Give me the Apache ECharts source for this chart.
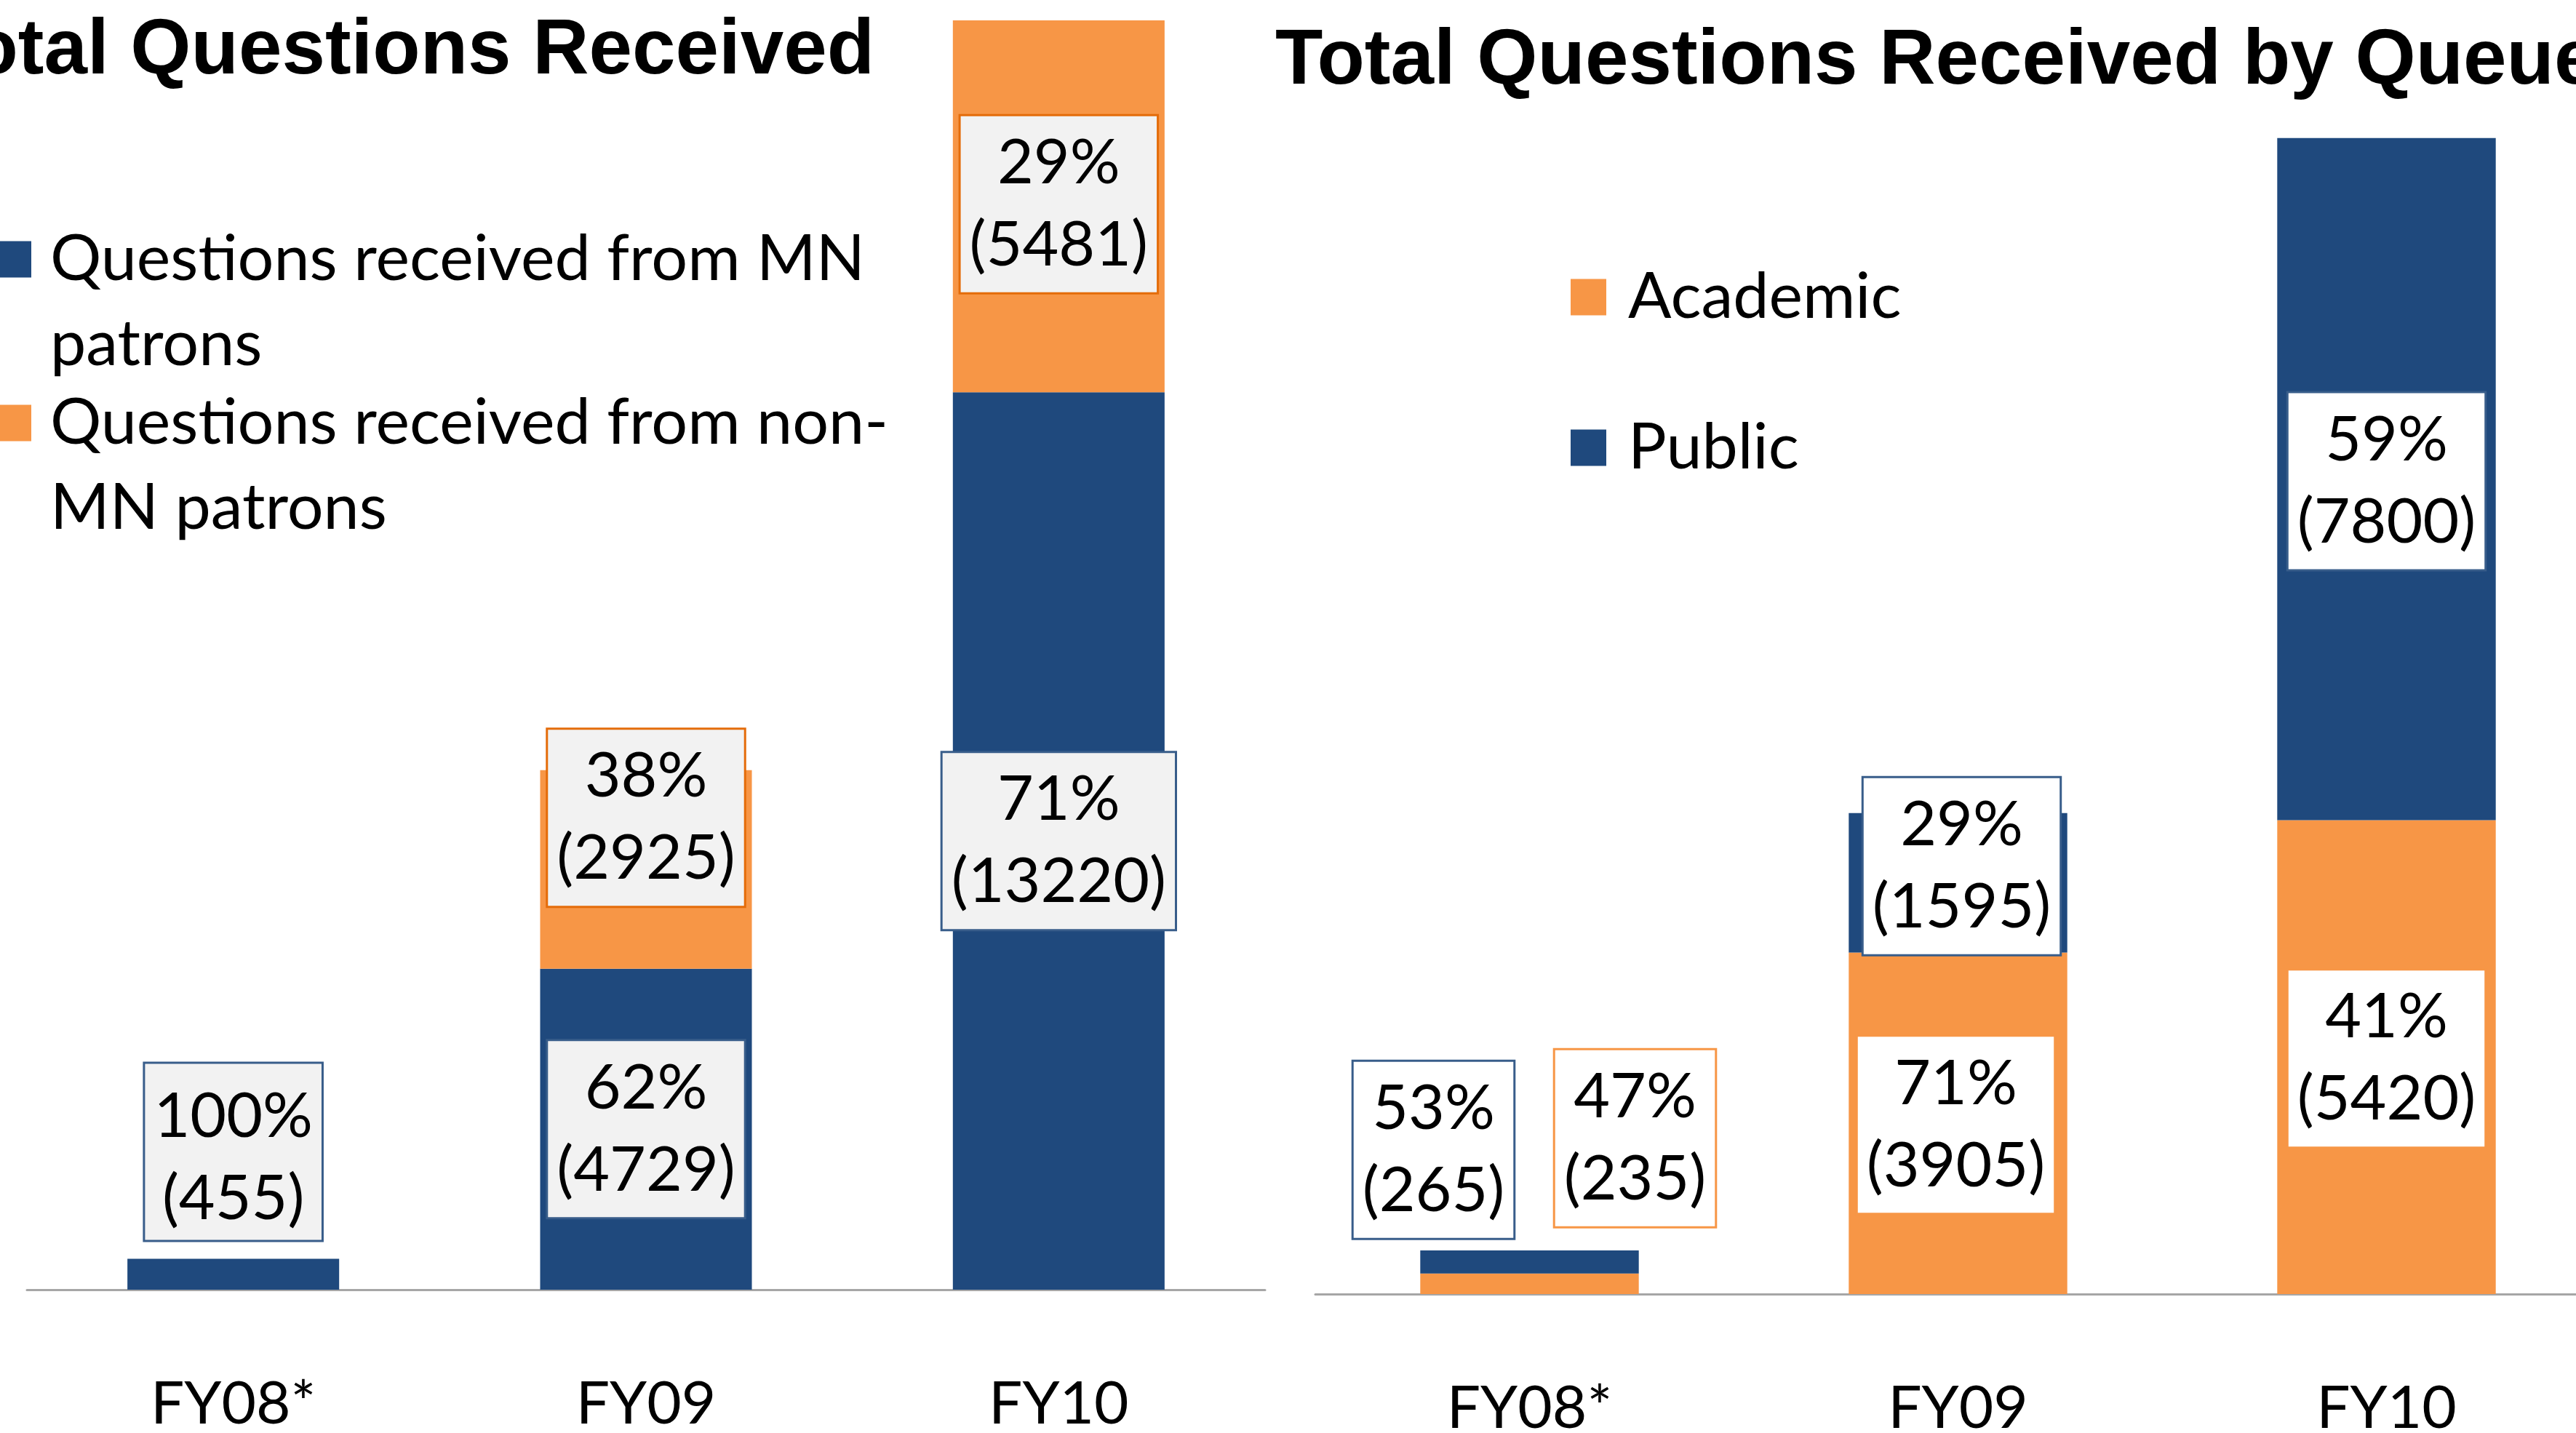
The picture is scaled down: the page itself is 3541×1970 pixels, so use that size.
<!DOCTYPE html>
<html>
<head>
<meta charset="utf-8">
<script src="https://cdn.jsdelivr.net/npm/echarts@6/dist/echarts.min.js"></script>
<style>
html, body { margin: 0; padding: 0; background: #fff; }
#chart { width: 3541px; height: 1970px; }
</style>
</head>
<body>
<div id="chart"></div>
<script>
// ---- data ----
const categories = ['FY08*', 'FY09', 'FY10'];
const mnPatrons = [455, 4729, 13220];
const nonMnPatrons = [0, 2925, 5481];
const academic = [235, 3905, 5420];
const publicQ = [265, 1595, 7800];
const leftTitle = 'Total Questions Received';
const rightTitle = 'Total Questions Received by Queue';
const leftNames = ['Questions received from MN patrons', 'Questions received from non-MN patrons'];
const leftNameWrapped = {
  'Questions received from MN patrons': '\nQuestions received from MN\npatrons',
  'Questions received from non-MN patrons': '\nQuestions received from non-\nMN patrons'
};
const rightNames = ['Academic', 'Public'];

// ---- styling ----
const BLUE = '#1F497D';
const ORANGE = '#F79646';
const BODY_FONT = 'Lato';
const labelBase = {
  show: true, position: 'inside', fontFamily: BODY_FONT, fontSize: 86, lineHeight: 113,
  color: '#000', padding: [16, 12, 0, 12], borderWidth: 3
};

function makeFormatter(a, b) {
  return function (p) {
    const total = a[p.dataIndex] + b[p.dataIndex];
    return Math.round(p.value / total * 100) + '%\n(' + p.value + ')';
  };
}
function buildData(values, overrides) {
  return values.map(function (v, i) {
    const o = Object.assign({}, overrides[i] || {});
    if (!v) o.show = false;
    return { value: v, label: o };
  });
}

// per-item label placement (layout only)
const leftMnLabel = [{ position: 'top', distance: 26 }, {}, {}];
const leftNonLabel = [{}, { offset: [0, -71] }, { offset: [0, -3] }];
const rightAcadLabel = [{ offset: [145, -200] }, { offset: [-3, 2] }, { offset: [0, 2] }];
const rightPubLabel = [{ offset: [-132, -154] }, { offset: [5, -23] }, { offset: [0, 3] }];

const axisLabelStyle = { fontFamily: BODY_FONT, fontSize: 82, lineHeight: 100, color: '#000', margin: 108 };

const chart = echarts.init(document.getElementById('chart'), null, { renderer: 'canvas' });
chart.setOption({
  backgroundColor: '#fff',
  animation: false,
  title: [
    { text: leftTitle, left: -98, top: 18, padding: 0,
      textStyle: { fontFamily: 'Liberation Sans', fontWeight: 'bold', fontSize: 107, color: '#000' } },
    { text: rightTitle, left: 1753, top: 32, padding: 0,
      textStyle: { fontFamily: 'Liberation Sans', fontWeight: 'bold', fontSize: 107, color: '#000' } }
  ],
  legend: [
    { data: leftNames, orient: 'vertical', left: -7, top: 181, padding: 0,
      itemWidth: 50, itemHeight: 50, itemGap: -126, icon: 'rect',
      formatter: function (n) { return leftNameWrapped[n] || n; },
      textStyle: { fontFamily: BODY_FONT, fontSize: 88, lineHeight: 117, color: '#000', padding: [0, 0, 0, 21] } },
    { data: rightNames, orient: 'vertical', left: 2159, top: 350, padding: 0,
      itemWidth: 49, itemHeight: 50, itemGap: 90, icon: 'rect',
      textStyle: { fontFamily: BODY_FONT, fontSize: 88, lineHeight: 117, color: '#000', padding: [0, 0, 0, 25] } }
  ],
  grid: [
    { left: 37, width: 1702, top: 0, bottom: 197, outerBoundsMode: 'none' },
    { left: 1808, width: 1767, top: 96, bottom: 191, outerBoundsMode: 'none' }
  ],
  xAxis: [
    { type: 'category', gridIndex: 0, data: categories, axisTick: { show: false },
      axisLine: { lineStyle: { color: '#A6A6A6', width: 3 } }, axisLabel: axisLabelStyle },
    { type: 'category', gridIndex: 1, data: categories, axisTick: { show: false },
      axisLine: { lineStyle: { color: '#A6A6A6', width: 3 } }, axisLabel: axisLabelStyle }
  ],
  yAxis: [
    { type: 'value', gridIndex: 0, min: 0, max: 19000, show: false, splitLine: { show: false } },
    { type: 'value', gridIndex: 1, min: 0, max: 14000, show: false, splitLine: { show: false } }
  ],
  series: [
    { name: leftNames[0], type: 'bar', stack: 'L', xAxisIndex: 0, yAxisIndex: 0, barWidth: '51.3%',
      itemStyle: { color: BLUE },
      label: Object.assign({}, labelBase, { backgroundColor: '#F2F2F2', borderColor: '#385D8A',
        formatter: makeFormatter(mnPatrons, nonMnPatrons) }),
      data: buildData(mnPatrons, leftMnLabel) },
    { name: leftNames[1], type: 'bar', stack: 'L', xAxisIndex: 0, yAxisIndex: 0, barWidth: '51.3%',
      itemStyle: { color: ORANGE },
      label: Object.assign({}, labelBase, { backgroundColor: '#F2F2F2', borderColor: '#E46C0A',
        formatter: makeFormatter(mnPatrons, nonMnPatrons) }),
      data: buildData(nonMnPatrons, leftNonLabel) },
    { name: rightNames[0], type: 'bar', stack: 'R', xAxisIndex: 1, yAxisIndex: 1, barWidth: '51%',
      itemStyle: { color: ORANGE },
      label: Object.assign({}, labelBase, { backgroundColor: '#FFFFFF', borderColor: ORANGE,
        formatter: makeFormatter(academic, publicQ) }),
      data: buildData(academic, rightAcadLabel) },
    { name: rightNames[1], type: 'bar', stack: 'R', xAxisIndex: 1, yAxisIndex: 1, barWidth: '51%',
      itemStyle: { color: BLUE },
      label: Object.assign({}, labelBase, { backgroundColor: '#FFFFFF', borderColor: '#385D8A',
        formatter: makeFormatter(academic, publicQ) }),
      data: buildData(publicQ, rightPubLabel) }
  ]
});
</script>
</body>
</html>
